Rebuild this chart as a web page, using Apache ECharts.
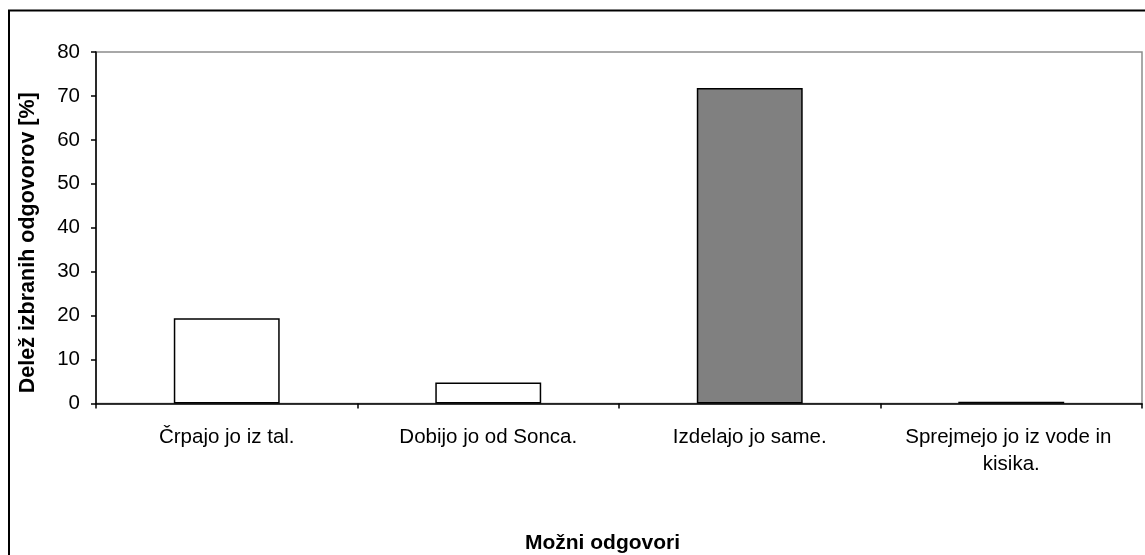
<!DOCTYPE html>
<html>
<head>
<meta charset="utf-8">
<script src="https://cdn.jsdelivr.net/npm/echarts@6/dist/echarts.min.js"></script>
<style>
  html, body { margin: 0; padding: 0; background: #fff; }
  #chart { width: 1145px; height: 555px; }
</style>
</head>
<body>
<div id="chart"></div>
<script>
// Answer options and share of chosen answers (%)
const categories = ['Črpajo jo iz tal.', 'Dobijo jo od Sonca.', 'Izdelajo jo same.', 'Sprejmejo jo iz vode in kisika.'];
const shares = [19.4, 4.8, 71.8, 0.4];
const barColors = ['#ffffff', '#ffffff', '#808080', '#ffffff'];
const yAxisTitle = 'Delež izbranih odgovorov [%]';
const xAxisTitle = 'Možni odgovori';

const FONT = '"Liberation Sans", Arial, sans-serif';

const chart = echarts.init(document.getElementById('chart'), null, { renderer: 'canvas' });

chart.setOption({
  animation: false,
  backgroundColor: '#ffffff',
  textStyle: { fontFamily: FONT },
  // outer chart frame
  graphic: [{
    type: 'rect',
    shape: { x: 9, y: 10.5, width: 1200, height: 600 },
    style: { fill: 'none', stroke: '#000', lineWidth: 2 },
    silent: true,
    z: 0
  }],
  grid: {
    left: 96, right: 3, top: 52, bottom: 151.5,
    containLabel: false,
    outerBoundsMode: 'none',
    show: true, borderColor: '#8c8c8c', borderWidth: 1.5, backgroundColor: 'transparent'
  },
  xAxis: {
    type: 'category',
    data: categories,
    name: xAxisTitle,
    nameLocation: 'middle',
    nameGap: 129,
    nameTextStyle: {
      fontFamily: FONT, fontSize: 21, fontWeight: 'bold', color: '#000',
      padding: [0, 33, 0, 0]
    },
    axisLine: { lineStyle: { color: '#000', width: 1.5 } },
    axisTick: { show: true, length: 5, lineStyle: { color: '#000', width: 1.5 } },
    axisLabel: {
      interval: 0, margin: 20, fontSize: 20.5, color: '#000', fontFamily: FONT,
      width: 225, overflow: 'break', lineHeight: 27, align: 'center'
    },
    splitLine: { show: false }
  },
  yAxis: {
    type: 'value',
    min: 0, max: 80, interval: 10,
    name: yAxisTitle,
    nameLocation: 'middle',
    nameGap: 57,
    nameTextStyle: {
      fontFamily: FONT, fontSize: 21.5, fontWeight: 'bold', color: '#000',
      padding: [0, 30, 0, 0]
    },
    axisLine: { show: true, lineStyle: { color: '#000', width: 1.5 } },
    axisTick: { show: true, length: 5, lineStyle: { color: '#000', width: 1.5 } },
    axisLabel: { margin: 16, fontSize: 20.5, color: '#000', fontFamily: FONT },
    splitLine: { show: false }
  },
  series: [{
    type: 'bar',
    barWidth: '40.5%',
    data: shares.map((v, i) => ({
      value: v,
      itemStyle: { color: barColors[i], borderColor: '#000', borderWidth: 1.5 }
    }))
  }]
});
</script>
</body>
</html>
